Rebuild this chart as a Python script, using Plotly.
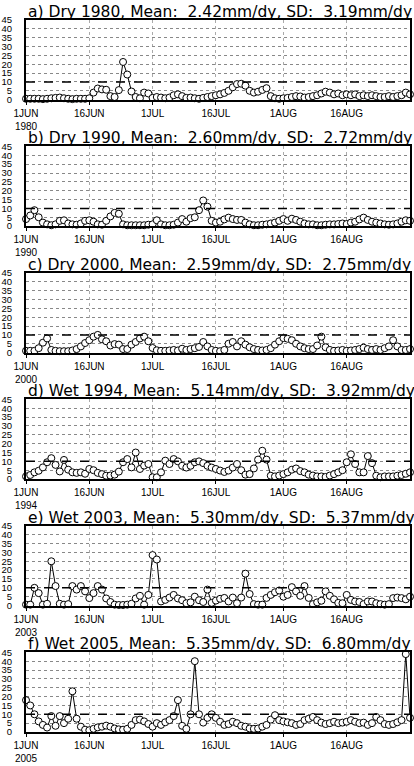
import plotly.graph_objects as go
import pandas as pd

panel_tags = ["a)", "b)", "c)", "d)", "e)", "f)"]
regimes = ["Dry", "Dry", "Dry", "Wet", "Wet", "Wet"]
years = [1980, 1990, 2000, 1994, 2003, 2005]
means = [2.42, 2.60, 2.59, 5.14, 5.30, 5.35]
sds = [3.19, 2.72, 2.75, 3.92, 5.37, 6.80]
threshold = 10
tick_dates = ["06-01", "06-16", "07-01", "07-16", "08-01", "08-16"]
tick_names = ["1JUN", "16JUN", "1JUL", "16JUL", "1AUG", "16AUG"]
y_ticks = [0, 5, 10, 15, 20, 25, 30, 35, 40, 45]

rain_1980 = [0.5, 0.5, 0.5, 0.5, 0.3, 0.5, 0.8, 1.0, 1.2, 0.8, 0.5, 0.3, 0.5, 0.5, 0.5,
             0.8, 4.0, 6.3, 5.8, 5.6, 2.0, 1.5, 5.4, 21.3, 14.2, 4.6, 1.5, 0.8, 4.0, 3.5,
             1.0, 1.5, 1.2, 0.8, 1.2, 2.5, 3.0, 2.0, 1.0, 1.2, 0.8, 0.5, 1.0, 1.5, 2.0,
             2.5, 3.0, 3.8, 5.0, 7.0, 8.8, 9.0, 7.9, 5.0, 4.0, 4.5, 5.5, 6.5, 2.0, 0.8,
             0.5, 0.8, 1.0, 1.5, 2.0, 1.8, 1.2, 1.5, 2.0, 2.5, 3.5, 4.5, 4.0, 3.0, 3.5,
             2.5, 3.0, 2.5, 3.0, 2.0, 2.5, 2.0, 2.5, 2.0, 1.5, 1.5, 2.0, 1.5, 2.0, 2.5, 4.0, 3.0]
rain_1990 = [4.0, 6.0, 9.0, 5.0, 2.0, 1.0, 0.5, 1.0, 3.0, 3.3, 1.5, 1.0, 0.8, 1.5, 3.0,
             3.3, 2.5, 1.0, 0.8, 3.0, 5.5, 7.5, 7.0, 1.0, 0.5, 0.5, 0.5, 0.5, 0.5, 0.8,
             1.0, 3.3, 1.0, 0.5, 0.5, 0.8, 2.0, 4.0, 2.5, 4.5, 5.0, 9.0, 14.5, 11.0, 3.0,
             2.0, 2.5, 3.8, 4.8, 4.0, 3.5, 3.5, 2.0, 1.0, 0.5, 0.5, 0.8, 1.0, 1.5, 2.0,
             3.0, 4.0, 3.0, 4.2, 3.5, 2.5, 1.5, 1.0, 1.0, 0.5, 0.5, 0.8, 1.0, 1.0, 1.2,
             1.5, 1.2, 2.0, 2.5, 3.8, 4.8, 3.5, 2.5, 2.0, 1.5, 1.0, 0.8, 1.0, 1.5, 2.5, 3.3, 3.0]
rain_2000 = [1.0, 1.0, 1.0, 2.5, 5.6, 8.0, 1.5, 1.0, 0.8, 0.8, 0.8, 1.2, 2.0, 3.5, 5.4,
             7.0, 9.0, 10.0, 7.5, 6.4, 4.0, 4.8, 4.5, 2.0, 2.0, 4.5, 6.0, 8.0, 9.0, 6.4,
             2.6, 1.3, 1.0, 1.0, 1.2, 1.5, 1.2, 2.2, 1.5, 2.0, 2.5, 3.2, 6.0, 3.5, 1.5,
             1.0, 0.8, 1.5, 5.0, 6.0, 3.5, 6.4, 4.5, 3.0, 2.0, 1.5, 1.2, 1.5, 2.5, 4.5,
             6.4, 8.2, 7.8, 7.0, 5.0, 3.5, 2.5, 2.0, 2.0, 4.0, 9.0, 3.0, 1.5, 1.0, 1.2,
             1.5, 1.0, 1.2, 1.5, 2.0, 2.8, 2.0, 1.5, 2.0, 1.5, 2.5, 3.5, 7.0, 3.5, 1.5, 1.5, 2.0]
rain_1994 = [1.5, 2.3, 3.8, 4.7, 6.6, 9.5, 11.8, 8.0, 4.3, 10.8, 5.3, 3.8, 3.5, 3.8, 3.0,
             5.7, 5.0, 3.5, 2.8, 1.9, 2.0, 2.5, 4.2, 9.5, 11.3, 6.6, 15.0, 5.7, 7.6, 8.5,
             1.0, 1.0, 3.8, 10.4, 8.5, 11.3, 10.0, 7.5, 6.5, 7.5, 9.5, 10.0, 9.0, 7.5, 6.5,
             5.7, 4.8, 4.0, 4.8, 6.5, 8.5, 5.0, 2.5, 2.8, 6.0, 11.0, 16.0, 11.0, 1.9, 1.5,
             2.0, 2.8, 3.8, 5.3, 6.0, 4.5, 3.8, 2.5, 2.0, 1.5, 1.5, 1.2, 2.0, 2.8, 3.8,
             5.0, 9.5, 14.0, 8.5, 3.8, 3.8, 13.0, 9.0, 1.9, 1.0, 1.5, 1.5, 1.5, 1.9, 2.3, 3.0, 3.8]
rain_2003 = [0.5, 0.5, 10.0, 7.0, 0.5, 1.0, 25.0, 11.0, 1.0, 0.5, 0.8, 11.0, 9.0, 11.0, 8.0,
             4.2, 7.0, 11.0, 9.0, 4.0, 2.0, 0.5, 0.3, 0.3, 0.5, 1.0, 4.0, 5.5, 0.5, 6.0,
             28.5, 26.0, 2.3, 3.2, 4.5, 6.0, 4.0, 3.0, 1.3, 1.8, 5.0, 3.0, 2.0, 9.0, 1.5,
             2.8, 3.8, 4.3, 2.3, 4.5, 1.3, 4.5, 18.0, 6.5, 0.8, 0.5, 0.5, 4.3, 6.0, 7.5,
             8.5, 5.0, 6.0, 10.4, 8.0, 5.5, 11.0, 4.3, 0.8, 1.8, 2.7, 8.0, 5.5, 3.5, 1.5,
             1.3, 6.0, 3.2, 2.3, 2.0, 0.8, 2.3, 2.3, 1.3, 0.8, 0.5, 0.8, 4.2, 4.5, 4.2, 3.5, 5.0]
rain_2005 = [18.0, 15.0, 10.0, 6.0, 4.0, 2.5, 9.0, 3.5, 9.0, 5.0, 7.5, 23.0, 7.5, 3.0, 1.3,
             1.0, 1.8, 2.6, 3.0, 3.6, 3.0, 2.0, 1.5, 1.3, 1.8, 4.0, 6.7, 7.0, 6.0, 4.5,
             3.0, 5.0, 4.0, 5.5, 6.7, 9.0, 18.0, 3.5, 1.8, 10.0, 40.0, 10.0, 5.3, 8.0, 10.0,
             8.0, 5.8, 4.0, 4.5, 5.8, 5.0, 3.5, 3.0, 2.0, 1.8, 2.0, 3.0, 4.0, 7.0, 9.5,
             6.7, 6.0, 5.5, 5.0, 4.0, 4.5, 6.7, 7.5, 8.5, 6.7, 5.3, 4.5, 5.0, 5.8, 5.0,
             5.3, 5.8, 6.7, 5.8, 5.0, 5.3, 4.0, 5.0, 8.5, 6.7, 4.5, 4.0, 4.5, 5.5, 6.7, 44.0, 8.0]

series = [rain_1980, rain_1990, rain_2000, rain_1994, rain_2003, rain_2005]

ML, MR, MT, MB = 24, 2, 20, 31
plot_h = 766 - MT - MB
panel_step = 127
panel_h = 80

fig = go.Figure()
tick_font = dict(family="Liberation Sans", size=9.5, color="black")
xtick_font = dict(family="Liberation Sans", size=10, color="black")

for i, (vals, yr) in enumerate(zip(series, years)):
    n = "" if i == 0 else str(i + 1)
    dates = pd.date_range(f"{yr}-06-01", periods=len(vals), freq="D")
    fig.add_trace(go.Scatter(
        x=dates, y=vals, mode="lines+markers",
        line=dict(color="black", width=1),
        marker=dict(symbol="circle", size=7, color="white",
                    line=dict(color="black", width=1)),
        xaxis="x" + n, yaxis="y" + n, showlegend=False, cliponaxis=False,
    ))
    top = 1 - (panel_step * i) / plot_h
    bot = 1 - (panel_step * i + panel_h) / plot_h
    tvals = [f"{yr}-{d}" for d in tick_dates]
    ttext = list(tick_names)
    ttext[0] = f"{tick_names[0]}<br>{yr}"
    fig.layout["xaxis" + n] = dict(
        domain=[0, 1], anchor="y" + n, type="date",
        range=[f"{yr}-06-01", f"{yr}-08-31"],
        tickmode="array", tickvals=tvals, ticktext=ttext,
        tickangle=0, tickfont=xtick_font, ticks="outside", ticklen=3,
        tickcolor="black",
        showgrid=True, gridcolor="#aaaaaa", griddash="dot", gridwidth=1,
        showline=True, linecolor="black", linewidth=2, mirror=True,
        zeroline=False, fixedrange=True,
    )
    fig.layout["yaxis" + n] = dict(
        domain=[max(bot, 0), top], anchor="x" + n, range=[0, 45],
        tickmode="array", tickvals=y_ticks, ticktext=[str(v) for v in y_ticks],
        tickfont=tick_font, ticks="", ticklabelstandoff=10,
        showgrid=True, gridcolor="#888888", griddash="dot", gridwidth=1,
        showline=True, linecolor="black", linewidth=2, mirror=True,
        zeroline=False, fixedrange=True,
    )
    fig.add_shape(type="line", xref=f"x{n} domain", yref="y" + n,
                  x0=0, x1=1, y0=threshold, y1=threshold,
                  line=dict(color="black", width=1.5, dash="dash"))
    title = (f"{panel_tags[i]} {regimes[i]} {yr}, Mean:\u00a0\u00a0{means[i]:.2f}mm/dy,"
             f" SD:\u00a0\u00a0{sds[i]:.2f}mm/dy")
    fig.add_annotation(text=title, xref=f"x{n} domain", yref=f"y{n} domain",
                       x=0, y=1, xanchor="left", yanchor="bottom", yshift=-3,
                       showarrow=False,
                       font=dict(family="DejaVu Sans", size=15.5, color="black"))

fig.update_layout(
    width=414, height=766,
    margin=dict(l=ML, r=MR, t=MT, b=MB, pad=0),
    paper_bgcolor="white", plot_bgcolor="white",
)

fig.write_html("out.html", config={"displayModeBar": False},
               post_script="document.body.style.margin='0';")
